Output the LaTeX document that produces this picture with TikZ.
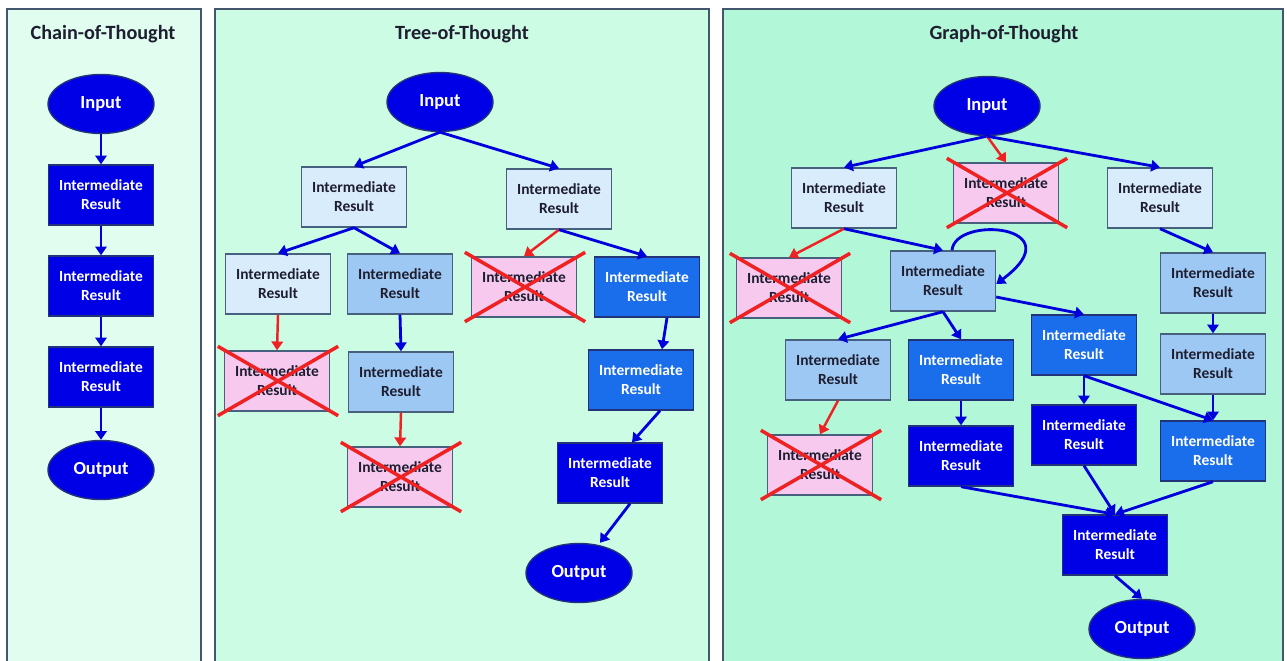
\documentclass[tikz,border=0pt]{standalone}
\usepackage{fontspec}
\setmainfont{Carlito}
\usetikzlibrary{arrows.meta,shapes.geometric}

\definecolor{cotbg}{HTML}{E0FDF0}
\definecolor{totbg}{HTML}{CCFCE4}
\definecolor{gotbg}{HTML}{B2F7D7}
\definecolor{panelline}{HTML}{44566E}
\definecolor{boxline}{HTML}{46607E}
\definecolor{darkline}{HTML}{22337A}
\definecolor{darkblue}{HTML}{0000E6}
\definecolor{brightblue}{HTML}{1A6EEB}
\definecolor{medblue}{HTML}{9DC8F3}
\definecolor{lightblue}{HTML}{D8ECFC}
\definecolor{pinkbox}{HTML}{F8C9EE}
\definecolor{textdark}{HTML}{1E1E30}
\definecolor{arrowblue}{HTML}{0000DD}
\definecolor{arrowred}{HTML}{EE2222}

\tikzset{
  panel/.style={draw=panelline, line width=1pt},
  ttl/.style={font=\fontsize{11.5}{13}\selectfont\bfseries, text=textdark},
  ir/.style={rectangle, minimum width=2.1cm, minimum height=1.2cm, inner sep=0pt,
             align=center, font=\fontsize{8.8}{10.8}\selectfont\bfseries,
             draw=boxline, line width=0.8pt},
  irl/.style={ir, fill=lightblue, text=textdark},
  irm/.style={ir, fill=medblue, text=textdark},
  irb/.style={ir, fill=brightblue, text=white, draw=darkline},
  ird/.style={ir, fill=darkblue, text=white, draw=darkline},
  irx/.style={ir, fill=pinkbox, text=textdark},
  io/.style={ellipse, fill=darkblue, draw=darkline, line width=0.8pt, inner sep=0pt,
             minimum width=2.12cm, minimum height=1.18cm, text=white,
             font=\fontsize{10.5}{12}\selectfont\bfseries},
  go/.style={draw=arrowblue, line width=1.6pt, -{Triangle[length=5pt,width=6.5pt]}},
  nogo/.style={draw=arrowred, line width=1.4pt, -{Triangle[length=5pt,width=6.5pt]}},
  cross/.style={draw=arrowred, line width=2pt}
}

% red cross drawn over a discarded result
\newcommand\strikebox[1]{%
  \draw[cross] ([shift={(-6,-4)}]#1.north west) -- ([shift={(8,4)}]#1.south east);
  \draw[cross] ([shift={(-6,4)}]#1.south west) -- ([shift={(8,-4)}]#1.north east);}

\newcommand\IR{Intermediate\\Result}

\begin{document}
\begin{tikzpicture}[x=0.02cm, y=-0.02cm]
  \useasboundingbox[fill=white] (0,0) rectangle (1287,660);

  % panels
  \fill[cotbg] (7,9) rectangle (201,666);
  \draw[panel] (7,666) -- (7,9) -- (201,9) -- (201,666);
  \fill[totbg] (215,9) rectangle (709,666);
  \draw[panel] (215,666) -- (215,9) -- (709,9) -- (709,666);
  \fill[gotbg] (723,9) rectangle (1283,666);
  \draw[panel] (723,666) -- (723,9) -- (1283,9) -- (1283,666);

  \node[ttl] (tcot) at (103,34) {Chain-of-Thought};
  \node[ttl] (ttot) at (462,34) {Tree-of-Thought};
  \node[ttl] (tgot) at (1004,34) {Graph-of-Thought};

  % ---------------- chain ----------------
  \node[io]  (cin)  at (101,104) {Input};
  \node[ird] (c1)   at (101,195) {\IR};
  \node[ird] (c2)   at (101,286) {\IR};
  \node[ird] (c3)   at (101,377) {\IR};
  \node[io]  (cout) at (101,470) {Output};
  \draw[go] (cin) -- (c1);
  \draw[go] (c1) -- (c2);
  \draw[go] (c2) -- (c3);
  \draw[go] (c3) -- (cout);

  % ---------------- tree ----------------
  \node[io]  (tin)  at (440,102) {Input};
  \node[irl] (ta)   at (354,197) {\IR};
  \node[irl] (tb)   at (559,199) {\IR};
  \node[irl] (tc)   at (278,284) {\IR};
  \node[irm] (td)   at (400,284) {\IR};
  \node[irx] (te)   at (524,287) {\IR};
  \node[irb] (tf)   at (647,287) {\IR};
  \node[irx] (tg)   at (277,381) {\IR};
  \node[irm] (th)   at (401,382) {\IR};
  \node[irx] (ti)   at (400,477) {\IR};
  \node[irb] (tj)   at (641,380) {\IR};
  \node[ird] (tk)   at (610,473) {\IR};
  \node[io]  (tout) at (579,573) {Output};

  \draw[go] (tin.south) -- (ta.north);
  \draw[go] (tin.south) -- (tb.north);
  \draw[go] (ta.south) -- (tc.north);
  \draw[go] (ta.south) -- (td.north);
  \draw[nogo] (tb.south) -- (te.north);
  \draw[go] (tb.south) -- (tf.north);
  \draw[nogo] (tc.south) -- (tg.north);
  \draw[go] (td.south) -- (th.north);
  \draw[nogo] (th.south) -- (ti.north);
  \draw[go] ([xshift=0.4cm]tf.south) -- ([xshift=0.42cm]tj.north);
  \draw[go] ([xshift=0.38cm]tj.south) -- ([xshift=0.44cm]tk.north);
  \draw[go] ([xshift=0.4cm]tk.south) -- ([xshift=0.42cm]tout.north);
  \strikebox{te}
  \strikebox{tg}
  \strikebox{ti}

  % ---------------- graph ----------------
  \node[io]  (gin)  at (987,106) {Input};
  \node[irl] (ga)   at (844,198) {\IR};
  \node[irx] (gb)   at (1006,193) {\IR};
  \node[irl] (gc)   at (1160,198) {\IR};
  \node[irx] (gd)   at (789,288) {\IR};
  \node[irm] (ge)   at (943,281) {\IR};
  \node[irm] (gf)   at (1213,283) {\IR};
  \node[irm] (gg)   at (838,370) {\IR};
  \node[irb] (gh)   at (961,370) {\IR};
  \node[irb] (gi)   at (1084,345) {\IR};
  \node[irm] (gj)   at (1213,364) {\IR};
  \node[irx] (gk)   at (820,465) {\IR};
  \node[ird] (gl)   at (961,456) {\IR};
  \node[ird] (gm)   at (1084,435) {\IR};
  \node[irb] (gn)   at (1213,451) {\IR};
  \node[ird] (gz)   at (1115,545) {\IR};
  \node[io]  (gout) at (1142,629) {Output};

  \draw[go] (gin.south) -- (ga.north);
  \draw[nogo] (gin.south) -- (gb.north);
  \draw[go] (gin.south) -- (gc.north);
  \draw[nogo] (ga.south) -- (gd.north);
  \draw[go] (ga.south) -- (ge.north);
  \draw[go] ([xshift=0.18cm]ge.north) .. controls (955,215) and (1075,225) .. ([yshift=-0.06cm]ge.east);
  \draw[go] (ge.south) -- (gg.north);
  \draw[go] (ge.south) -- (gh.north);
  \draw[go] ([yshift=-0.32cm]ge.east) -- (gi.north);
  \draw[go] (gc.south) -- (gf.north);
  \draw[go] (gf.south) -- (gj.north);
  \draw[go] (gj.south) -- (gn.north);
  \draw[nogo] (gg.south) -- (gk.north);
  \draw[go] (gh.south) -- (gl.north);
  \draw[go] (gi.south) -- (gm.north);
  \draw[go] (gi.south) -- (gn.north);
  \draw[go] (gl.south) -- (gz.north);
  \draw[go] (gm.south) -- (gz.north);
  \draw[go] (gn.south) -- (gz.north);
  \draw[go] (gz.south) -- (gout.north);
  \strikebox{gb}
  \strikebox{gd}
  \strikebox{gk}
\end{tikzpicture}
\end{document}
